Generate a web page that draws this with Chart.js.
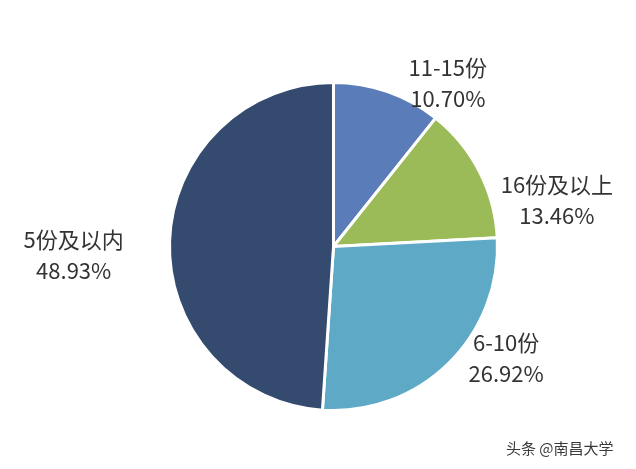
<!DOCTYPE html>
<html>
<head>
<meta charset="utf-8">
<script src="https://cdn.jsdelivr.net/npm/chart.js@4/dist/chart.umd.min.js"></script>
<style>
  html, body { margin: 0; padding: 0; background: #fff; }
  #wrap { position: relative; width: 636px; height: 469px; }
  #mark {
    position: absolute; left: 506px; top: 437px;
    font: 15px "Noto Sans CJK SC", sans-serif; color: #3a3a3a;
    text-shadow: 0 0 2px #fff;
  }
</style>
</head>
<body>
<div id="wrap">
  <canvas id="pie" width="636" height="469"></canvas>
  <div id="mark">头条 @南昌大学</div>
</div>
<script>
// 份数分布
var categories = ['11-15份', '16份及以上', '6-10份', '5份及以内'];
var shares = [10.70, 13.46, 26.92, 48.93];
var sliceColors = ['#5a7dba', '#9bbb59', '#5ea9c6', '#344a6f'];

// 标签位置: 相对圆心的角度(度, 顺时针从正上方) 和 半径倍数
var labelPlace = [
  { angle: 35, dist: 1.215 },
  { angle: 78.5, dist: 1.39 },
  { angle: 123, dist: 1.255 },
  { angle: 268, dist: 1.585 }
];

var outLabels = {
  id: 'outLabels',
  afterDatasetsDraw: function(chart) {
    var ctx = chart.ctx;
    var arcs = chart.getDatasetMeta(0).data;
    ctx.save();
    ctx.fillStyle = '#333333';
    ctx.font = '22px "Noto Sans CJK SC", sans-serif';
    ctx.textAlign = 'center';
    ctx.textBaseline = 'middle';
    arcs.forEach(function(arc, i) {
      var p = labelPlace[i];
      var a = p.angle * Math.PI / 180;
      var r = arc.outerRadius * p.dist;
      var x = arc.x + Math.sin(a) * r;
      var y = arc.y - Math.cos(a) * r;
      ctx.fillText(categories[i], x, y - 16);
      ctx.fillText(shares[i].toFixed(2) + '%', x, y + 15);
    });
    ctx.restore();
  }
};

new Chart(document.getElementById('pie'), {
  type: 'pie',
  data: {
    labels: categories,
    datasets: [{
      data: shares,
      backgroundColor: sliceColors,
      borderColor: '#ffffff',
      borderWidth: 3
    }]
  },
  options: {
    responsive: false,
    animation: false,
    layout: { padding: { left: 168, right: 137, top: 81, bottom: 57 } },
    plugins: {
      legend: { display: false },
      tooltip: { enabled: false }
    }
  },
  plugins: [outLabels]
});
</script>
</body>
</html>
